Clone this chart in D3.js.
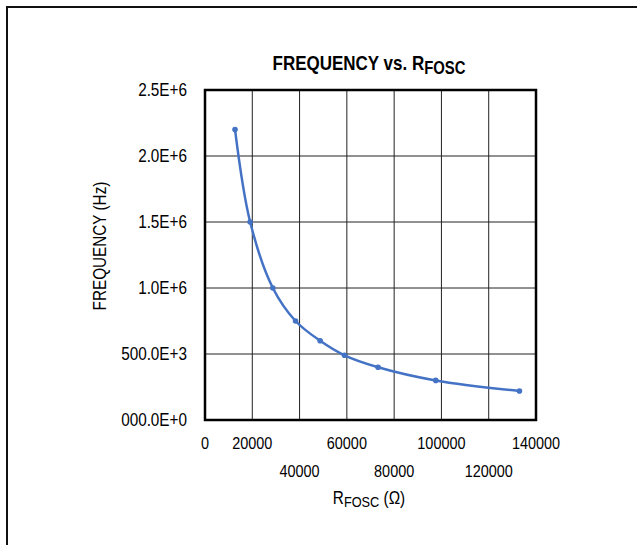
<!DOCTYPE html>
<html>
<head>
<meta charset="utf-8">
<script src="https://cdn.jsdelivr.net/npm/d3@7"></script>
<style>
  body { margin: 0; background: #fff; }
  svg { display: block; font-family: "Liberation Sans", Arial, sans-serif; }
</style>
</head>
<body>
<svg id="chart" width="637" height="545"></svg>
<script>
// data
var resistance = [12700, 19100, 28700, 38300, 48700, 59000, 73200, 97600, 133000]
var frequency = [2200000, 1500000, 1000000, 750000, 600000, 490000, 400000, 300000, 220000]
var xTicks = [0, 20000, 40000, 60000, 80000, 100000, 120000, 140000]
var yTicks = [0, 500000, 1000000, 1500000, 2000000, 2500000]
var yTickLabels = ['000.0E+0', '500.0E+3', '1.0E+6', '1.5E+6', '2.0E+6', '2.5E+6']

// layout
var plotLeft = 205, plotRight = 536, plotTop = 90, plotBottom = 420
var lineColor = '#4472c4'
// the source font is a narrow one, squeeze the text horizontally
var squeeze = 0.85

var svg = d3.select('#chart')

var x = d3.scaleLinear().domain([0, 140000]).range([plotLeft, plotRight])
var y = d3.scaleLinear().domain([0, 2500000]).range([plotBottom, plotTop])

function at(px, py, rot) {
  return 'translate(' + px + ',' + py + ')' + (rot ? ' rotate(' + rot + ')' : '') + ' scale(' + squeeze + ',1)'
}

// outer frame (top and left edges)
svg.append('path')
  .attr('d', 'M7,545 L7,7 L637,7')
  .attr('fill', 'none')
  .attr('stroke', '#111')
  .attr('stroke-width', 2)

// grid
svg.append('g').selectAll('line').data(xTicks.slice(1, -1)).join('line')
  .attr('x1', function(d) { return x(d) }).attr('x2', function(d) { return x(d) })
  .attr('y1', plotTop).attr('y2', plotBottom)
  .attr('stroke', '#222').attr('stroke-width', 1)
svg.append('g').selectAll('line').data(yTicks.slice(1, -1)).join('line')
  .attr('y1', function(d) { return y(d) }).attr('y2', function(d) { return y(d) })
  .attr('x1', plotLeft).attr('x2', plotRight)
  .attr('stroke', '#222').attr('stroke-width', 1)

// plot border
svg.append('rect')
  .attr('x', plotLeft).attr('y', plotTop)
  .attr('width', plotRight - plotLeft).attr('height', plotBottom - plotTop)
  .attr('fill', 'none').attr('stroke', '#000').attr('stroke-width', 2.5)

// curve
var line = d3.line()
  .x(function(d, i) { return x(resistance[i]) })
  .y(function(d) { return y(d) })
  .curve(d3.curveCatmullRom.alpha(0.5))

svg.append('path')
  .datum(frequency)
  .attr('d', line)
  .attr('fill', 'none')
  .attr('stroke', lineColor)
  .attr('stroke-width', 2.5)

svg.append('g').selectAll('circle').data(frequency).join('circle')
  .attr('cx', function(d, i) { return x(resistance[i]) })
  .attr('cy', function(d) { return y(d) })
  .attr('r', 2.8)
  .attr('fill', lineColor)

// y tick labels
svg.append('g').selectAll('text').data(yTicks).join('text')
  .attr('transform', function(d) { return at(187, y(d) + 6) })
  .attr('text-anchor', 'end')
  .attr('font-size', 18)
  .attr('fill', '#000')
  .text(function(d, i) { return yTickLabels[i] })

// x tick labels, staggered in two rows
svg.append('g').selectAll('text').data(xTicks).join('text')
  .attr('transform', function(d, i) { return at(x(d), (i === 0 || i % 2 === 1) ? 449 : 477) })
  .attr('text-anchor', 'middle')
  .attr('font-size', 17)
  .attr('fill', '#000')
  .text(function(d) { return d })

// title
var title = svg.append('text')
  .attr('transform', at(369, 70))
  .attr('text-anchor', 'middle')
  .attr('font-size', 20)
  .attr('font-weight', 'bold')
  .attr('fill', '#000')
title.append('tspan').text('FREQUENCY vs. R')
title.append('tspan').attr('dy', 4).attr('font-size', 17.5).text('FOSC')

// y axis title
svg.append('text')
  .attr('transform', at(106, 246, -90))
  .attr('text-anchor', 'middle')
  .attr('font-size', 18)
  .attr('fill', '#000')
  .text('FREQUENCY (Hz)')

// x axis title
var xt = svg.append('text')
  .attr('transform', at(369, 504))
  .attr('text-anchor', 'middle')
  .attr('font-size', 18)
  .attr('fill', '#000')
xt.append('tspan').text('R')
xt.append('tspan').attr('dy', 3).attr('font-size', 15).text('FOSC')
xt.append('tspan').attr('dy', -3).text(' (Ω)')
</script>
</body>
</html>
